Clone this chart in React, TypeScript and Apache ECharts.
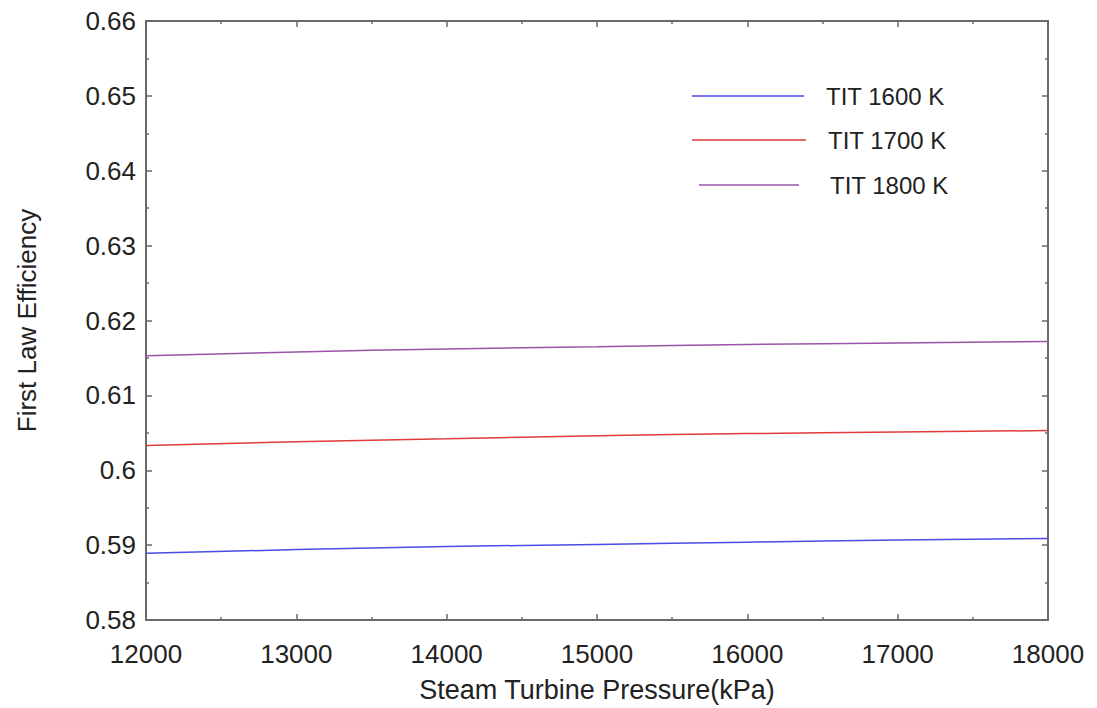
import React, { useEffect, useRef } from "react";
import * as echarts from "echarts";

const pressures = [12000, 13000, 14000, 15000, 16000, 17000, 18000];
const tit1600 = [0.5889, 0.5894, 0.5898, 0.5901, 0.5904, 0.5907, 0.5909];
const tit1700 = [0.6033, 0.6038, 0.6042, 0.6046, 0.6049, 0.6051, 0.6053];
const tit1800 = [0.6153, 0.6158, 0.6162, 0.6165, 0.6168, 0.6170, 0.6172];
const seriesNames = ["TIT 1600 K", "TIT 1700 K", "TIT 1800 K"];
const seriesColors = ["#4a4ae6", "#e03a3a", "#9a55a8"];

const FONT = "Liberation Sans, Arial, sans-serif";
const AX = "#6a6a6a";

export default function App() {
  const ref = useRef<HTMLDivElement>(null);
  useEffect(() => {
    if (!ref.current) return;
    const chart = echarts.init(ref.current, undefined, { renderer: "svg" });
    const mk = (d: number[]) => pressures.map((p, i) => [p, d[i]]);
    const datas = [tit1600, tit1700, tit1800];
    const baseTick = {
      show: true,
      inside: true,
      length: 6,
      lineStyle: { color: AX, width: 1.5 },
    };
    const minor = {
      show: true,
      splitNumber: 2,
      length: 3,
      lineStyle: { color: AX, width: 1.5 },
    };
    const legendY = [96, 140, 185];
    const legendLineX = [[692, 804], [692, 806], [699, 799]];
    const legendTextX = [826, 828, 830];
    const graphic: any[] = [];
    seriesNames.forEach((n, i) => {
      graphic.push({
        type: "line",
        shape: { x1: legendLineX[i][0], y1: legendY[i], x2: legendLineX[i][1], y2: legendY[i] },
        style: { stroke: seriesColors[i], lineWidth: 1.5 },
      });
      graphic.push({
        type: "text",
        x: legendTextX[i],
        y: legendY[i],
        style: { text: n, font: `24px ${FONT}`, fill: "#222", verticalAlign: "middle" },
      });
    });
    chart.setOption({
      animation: false,
      backgroundColor: "#fff",
      grid: { left: 146, top: 21, right: 49, bottom: 86, containLabel: false },
      xAxis: [
        {
          type: "value",
          min: 12000,
          max: 18000,
          interval: 1000,
          position: "bottom",
          name: "Steam Turbine Pressure(kPa)",
          nameLocation: "middle",
          nameGap: 56,
          nameTextStyle: { fontFamily: FONT, fontSize: 27, color: "#222" },
          axisLine: { show: true, lineStyle: { color: AX, width: 2 } },
          axisTick: baseTick,
          minorTick: minor,
          splitLine: { show: false },
          axisLabel: {
            fontFamily: FONT,
            fontSize: 26,
            color: "#222",
            margin: 21,
            formatter: (v: number) => String(v),
          },
        },
        {
          type: "value",
          min: 12000,
          max: 18000,
          interval: 1000,
          position: "top",
          axisLine: { show: true, lineStyle: { color: AX, width: 2 } },
          axisTick: baseTick,
          minorTick: minor,
          splitLine: { show: false },
          axisLabel: { show: false },
        },
      ],
      yAxis: [
        {
          type: "value",
          min: 0.58,
          max: 0.66,
          interval: 0.01,
          position: "left",
          name: "First Law Efficiency",
          nameLocation: "middle",
          nameGap: 106,
          nameTextStyle: { fontFamily: FONT, fontSize: 26, color: "#222" },
          axisLine: { show: true, lineStyle: { color: AX, width: 2 } },
          axisTick: baseTick,
          minorTick: minor,
          splitLine: { show: false },
          axisLabel: {
            fontFamily: FONT,
            fontSize: 26,
            color: "#222",
            margin: 10,
            formatter: (v: number) => String(parseFloat(v.toFixed(2))),
          },
        },
        {
          type: "value",
          min: 0.58,
          max: 0.66,
          interval: 0.01,
          position: "right",
          axisLine: { show: true, lineStyle: { color: AX, width: 2 } },
          axisTick: baseTick,
          minorTick: minor,
          splitLine: { show: false },
          axisLabel: { show: false },
        },
      ],
      series: seriesNames.map((n, i) => ({
        name: n,
        type: "line",
        data: mk(datas[i]),
        xAxisIndex: 0,
        yAxisIndex: 0,
        smooth: true,
        showSymbol: false,
        lineStyle: { color: seriesColors[i], width: 1.5 },
        itemStyle: { color: seriesColors[i] },
      })),
      graphic,
    });
    return () => chart.dispose();
  }, []);
  return (
    <div
      ref={ref}
      style={{ position: "fixed", left: 0, top: 0, width: 1097, height: 708 }}
    />
  );
}
